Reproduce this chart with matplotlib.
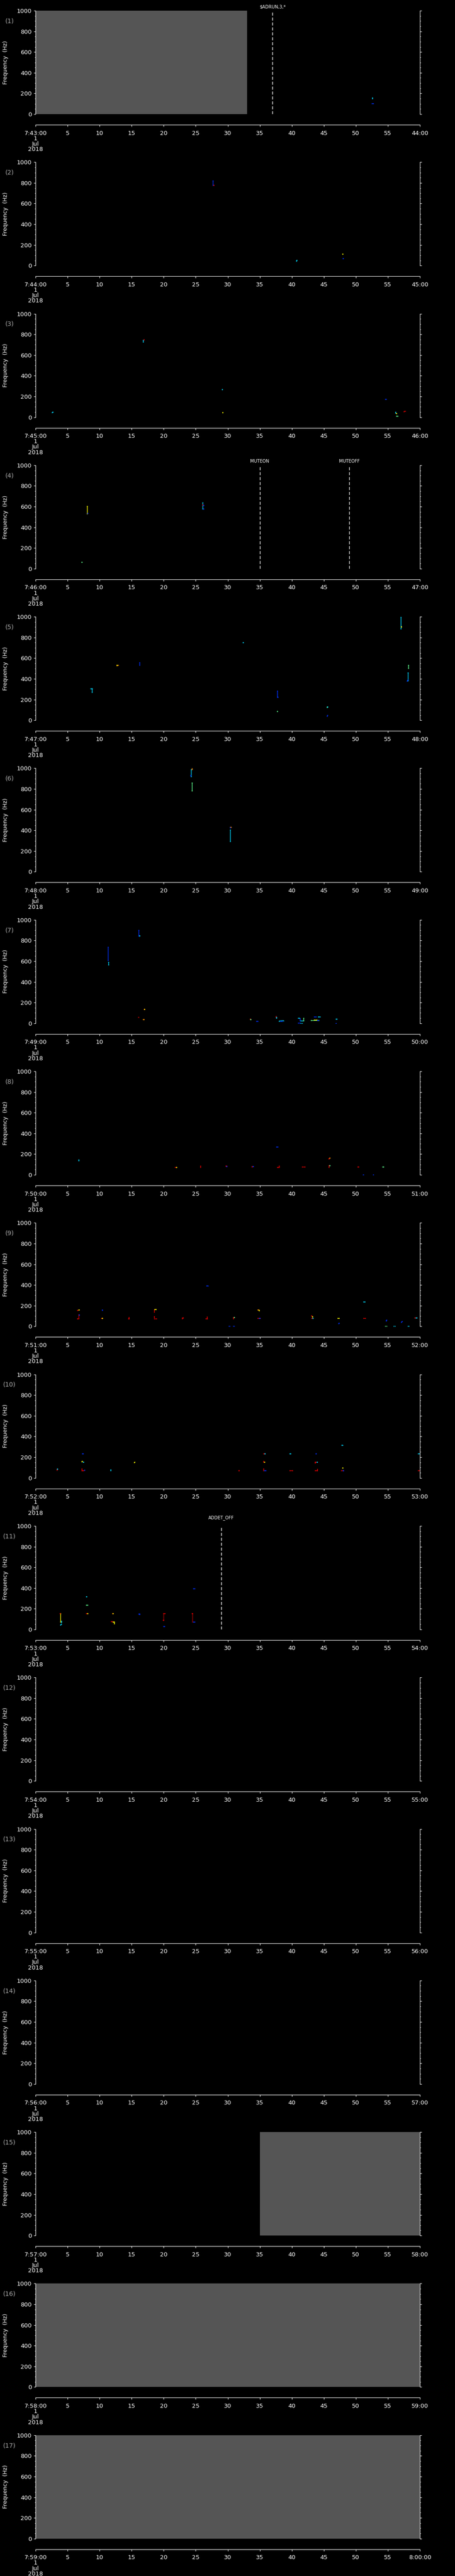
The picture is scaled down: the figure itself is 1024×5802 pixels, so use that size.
import matplotlib
matplotlib.use('Agg')
import matplotlib.pyplot as plt
from matplotlib.ticker import MultipleLocator

# one panel per minute, 7:43 -> 8:00 on 1 Jul 2018
minutes = list(range(43, 60))          # start minute of each panel (hour 7)
n_panels = len(minutes)

# grey "no data" spans (seconds) per panel index
gray_spans = {0: (0, 33.0), 14: (35.0, 60), 15: (0, 60), 16: (0, 60)}

# event markers: (panel index, second, label, label offset in px above axes)
events = [(0, 37.0, '$ADRUN,3,*', 9),
          (3, 35.0, 'MUTEON', 9),
          (3, 49.0, 'MUTEOFF', 9),
          (10, 29.0, 'ADDET_OFF', 18)]

cols = {'b': '#0030ff', 'c': '#00d8ff', 'g': '#60ff90', 'y': '#ffff00',
        'o': '#ff9000', 'r': '#e00000', 'd': '#a00000'}

# specks: (t0, t1, f0, f1, colour)
p1 = [(52.6, 52.6, 150, 160, 'c'), (52.5, 52.7, 105, 105, 'b')]
p2 = [(27.7, 27.7, 779, 819, 'b'), (27.8, 27.8, 777, 777, 'r'), (40.7, 40.8, 46, 54, 'c'),
      (47.9, 47.9, 114, 114, 'y'), (48.0, 48.0, 68, 68, 'b')]
p3 = [(2.6, 2.7, 47, 50, 'c'), (16.8, 16.8, 729, 745, 'c'), (16.9, 16.9, 749, 751, 'r'),
      (29.1, 29.1, 270, 270, 'c'), (29.2, 29.2, 47, 47, 'y'), (54.6, 54.7, 174, 174, 'b'),
      (56.2, 56.2, 42, 51, 'c'), (56.3, 56.3, 37, 37, 'y'), (56.3, 56.5, 13, 13, 'g'),
      (57.5, 57.7, 56, 58, 'r')]
p4 = [(8.07, 8.07, 531, 603, 'y'), (8.1, 8.1, 534, 534, 'b'), (7.2, 7.2, 64, 64, 'g'),
      (26.1, 26.1, 577, 641, 'c'), (26.1, 26.1, 617, 617, 'r'), (26.2, 26.2, 614, 614, 'b'),
      (26.2, 26.2, 577, 577, 'b')]
p5 = [(8.6, 8.8, 304, 304, 'c'), (8.8, 8.8, 269, 304, 'c'), (12.7, 12.9, 528, 531, 'o'),
      (12.7, 12.7, 532, 532, 'y'), (16.2, 16.2, 532, 558, 'b'), (32.4, 32.4, 753, 753, 'c'),
      (37.7, 37.7, 224, 283, 'b'), (37.8, 37.8, 226, 226, 'b'), (37.7, 37.7, 85, 85, 'g'),
      (45.5, 45.5, 127, 131, 'g'), (45.6, 45.6, 128, 128, 'c'), (45.5, 45.6, 40, 49, 'b'),
      (57.0, 57.0, 883, 998, 'c'), (57.1, 57.1, 900, 905, 'y'), (58.2, 58.2, 504, 532, 'g'),
      (58.1, 58.1, 384, 459, 'c'), (58.0, 58.1, 380, 390, 'b')]
p6 = [(24.3, 24.3, 920, 990, 'c'), (24.4, 24.4, 990, 997, 'o'), (24.2, 24.2, 930, 935, 'b'),
      (24.4, 24.4, 784, 860, 'g'), (30.4, 30.4, 294, 406, 'c'), (30.4, 30.5, 431, 431, 'o'),
      (30.4, 30.4, 427, 427, 'b')]
p7 = [(11.3, 11.3, 610, 737, 'b'), (11.4, 11.4, 566, 590, 'c'), (16.1, 16.1, 843, 900, 'b'),
      (16.2, 16.2, 845, 850, 'c'), (16.9, 17.0, 137, 137, 'r'), (17.0, 17.0, 137, 137, 'y'),
      (16.0, 16.1, 60, 60, 'd'), (16.8, 16.9, 36, 36, 'o'), (33.5, 33.5, 41, 44, 'r'),
      (33.6, 33.6, 38, 38, 'g'), (34.5, 34.7, 21, 21, 'b'), (37.5, 37.5, 60, 69, 'r'),
      (37.6, 37.6, 50, 58, 'c'), (38.0, 38.7, 22, 26, 'c'), (38.2, 38.5, 21, 21, 'b'),
      (41.0, 41.2, 51, 51, 'c'), (41.3, 41.3, 26, 45, 'b'), (41.4, 41.7, 26, 26, 'c'),
      (41.8, 41.8, 26, 51, 'g'), (41.0, 41.3, 3, 3, 'b'), (41.4, 41.6, 0, 0, 'c'),
      (43.0, 44.2, 30, 30, 'g'), (43.5, 43.9, 34, 34, 'y'), (44.0, 44.2, 30, 30, 'b'),
      (43.5, 43.8, 64, 64, 'b'), (44.1, 44.4, 64, 64, 'c'), (46.9, 47.0, 43, 43, 'c'),
      (46.9, 46.9, 1, 1, 'b')]
p8 = [(6.7, 6.7, 138, 148, 'c'), (21.8, 21.9, 72, 72, 'r'), (22.0, 22.0, 72, 72, 'y'),
      (25.7, 25.7, 74, 84, 'r'), (29.7, 29.8, 84, 84, 'r'), (29.8, 29.8, 80, 80, 'b'),
      (33.8, 33.8, 79, 82, 'r'), (33.9, 34.0, 82, 82, 'b'), (37.7, 37.9, 74, 74, 'r'),
      (38.0, 38.0, 74, 85, 'r'), (41.6, 42.0, 79, 79, 'r'), (45.8, 45.8, 72, 89, 'r'),
      (45.9, 45.9, 89, 89, 'g'), (45.8, 45.8, 155, 161, 'r'), (45.9, 45.9, 165, 165, 'o'),
      (37.6, 37.8, 269, 269, 'b'), (50.3, 50.4, 79, 79, 'r'), (54.2, 54.3, 79, 79, 'g'),
      (51.1, 51.2, 0, 0, 'b'), (52.7, 52.7, 0, 0, 'b')]
p9 = [(6.5, 6.6, 158, 158, 'r'), (6.7, 6.8, 161, 161, 'y'), (6.7, 6.7, 75, 113, 'r'),
      (6.5, 6.6, 75, 75, 'r'), (6.8, 6.8, 110, 113, 'b'), (10.4, 10.4, 158, 161, 'b'),
      (10.3, 10.4, 80, 80, 'r'), (10.4, 10.4, 80, 80, 'y'), (14.6, 14.6, 75, 89, 'r'),
      (14.5, 14.6, 75, 75, 'r'), (18.5, 18.5, 138, 160, 'r'), (18.6, 18.8, 164, 164, 'y'),
      (18.5, 18.5, 89, 97, 'r'), (18.5, 18.9, 75, 75, 'r'), (22.9, 22.9, 75, 85, 'r'),
      (23.0, 23.0, 85, 85, 'r'), (26.8, 26.8, 75, 90, 'r'), (26.6, 26.8, 75, 75, 'r'),
      (26.7, 26.9, 392, 390, 'b'), (30.9, 30.9, 75, 89, 'r'), (31.0, 31.0, 89, 89, 'g'),
      (30.2, 30.3, 0, 0, 'b'), (30.9, 31.0, 0, 0, 'b'), (34.7, 34.8, 161, 161, 'o'),
      (34.9, 34.9, 152, 158, 'y'), (34.7, 35.0, 77, 77, 'r'), (34.9, 35.0, 77, 77, 'b'),
      (43.1, 43.1, 100, 105, 'r'), (43.2, 43.2, 93, 96, 'y'), (43.1, 43.2, 77, 77, 'r'),
      (43.3, 43.3, 77, 77, 'c'), (47.2, 47.4, 77, 77, 'y'), (47.3, 47.4, 28, 33, 'b'),
      (51.2, 51.4, 236, 236, 'c'), (51.2, 51.5, 77, 77, 'r'), (54.7, 54.8, 52, 62, 'b'),
      (54.6, 54.8, 0, 0, 'g'), (55.9, 56.1, 0, 0, 'c'), (57.1, 57.2, 38, 48, 'b'),
      (58.1, 58.3, 0, 0, 'c'), (59.2, 59.3, 82, 82, 'r'), (59.4, 59.5, 82, 82, 'c')]
p10 = [(3.3, 3.3, 74, 85, 'r'), (3.4, 3.4, 85, 90, 'c'), (7.3, 7.4, 234, 234, 'b'),
       (7.2, 7.3, 157, 160, 'y'), (7.4, 7.5, 151, 151, 'c'), (7.2, 7.2, 72, 90, 'r'),
       (7.3, 7.5, 72, 72, 'r'), (7.6, 7.6, 74, 74, 'b'), (11.7, 11.7, 71, 82, 'c'),
       (15.4, 15.5, 148, 153, 'y'), (31.7, 31.8, 71, 71, 'r'), (35.6, 35.7, 234, 234, 'r'),
       (35.8, 35.8, 234, 234, 'c'), (35.6, 35.6, 153, 163, 'r'), (35.7, 35.7, 151, 151, 'y'),
       (35.6, 35.6, 71, 89, 'r'), (35.7, 35.9, 71, 71, 'b'), (39.7, 39.8, 235, 235, 'c'),
       (39.7, 40.1, 71, 71, 'r'), (43.8, 43.8, 235, 235, 'b'), (43.6, 43.6, 143, 153, 'r'),
       (43.6, 43.8, 153, 153, 'r'), (43.9, 44.0, 151, 151, 'c'), (43.6, 43.9, 71, 71, 'r'),
       (44.0, 44.0, 71, 86, 'r'), (47.8, 47.9, 316, 318, 'c'), (47.9, 47.9, 97, 97, 'y'),
       (47.7, 48.0, 71, 71, 'r'), (48.0, 48.1, 71, 71, 'b'), (59.7, 60.0, 235, 235, 'c'),
       (59.7, 60.0, 71, 71, 'r')]
p11 = [(3.9, 3.9, 74, 156, 'y'), (3.8, 3.8, 156, 156, 'r'), (4.0, 4.0, 70, 82, 'c'),
       (3.9, 4.0, 41, 53, 'c'), (7.9, 8.0, 319, 319, 'c'), (7.9, 8.1, 234, 234, 'g'),
       (7.9, 8.0, 156, 156, 'r'), (8.1, 8.1, 156, 156, 'y'), (12.0, 12.1, 156, 156, 'r'),
       (12.1, 12.1, 156, 156, 'y'), (11.8, 12.0, 77, 77, 'r'), (12.3, 12.3, 54, 74, 'y'),
       (12.1, 12.2, 74, 74, 'y'), (16.1, 16.2, 151, 151, 'b'), (16.2, 16.2, 145, 151, 'b'),
       (20.0, 20.0, 90, 156, 'd'), (20.0, 20.2, 156, 156, 'r'), (19.9, 20.0, 90, 90, 'r'),
       (20.0, 20.1, 31, 31, 'b'), (24.5, 24.5, 74, 156, 'd'), (24.4, 24.5, 156, 156, 'r'),
       (24.6, 24.8, 74, 74, 'b'), (24.6, 24.8, 393, 393, 'b')]
specks = {0: p1, 1: p2, 2: p3, 3: p4, 4: p5, 5: p6, 6: p7, 7: p8, 8: p9, 9: p10, 10: p11}

W, H = 1024, 5802
step = H / n_panels
left, width = 80 / W, 865 / W
ax_h = 233
fs = 9.5

fig = plt.figure(figsize=(W / 100, H / 100), dpi=100, facecolor='black')

for i, m in enumerate(minutes):
    top = 24 + i * step
    ax = fig.add_axes([left, 1 - (top + ax_h) / H, width, ax_h / H])
    ax.set_facecolor('black')
    ax.set_xlim(0, 60)
    ax.set_ylim(0, 1000)
    for s in ['top', 'bottom']:
        ax.spines[s].set_visible(False)
    for s in ['left', 'right']:
        ax.spines[s].set_color('white')
    ax.set_xticks([])
    ax.yaxis.set_major_locator(MultipleLocator(200))
    ax.yaxis.set_minor_locator(MultipleLocator(50))
    ax.tick_params(axis='y', which='both', left=True, right=True, direction='out',
                   colors='white', labelsize=fs, pad=3)
    ax.tick_params(axis='y', which='major', length=3)
    ax.tick_params(axis='y', which='minor', length=1.5)
    ax.set_ylabel('Frequency  (Hz)', color='white', fontsize=9, labelpad=14)
    ax.text(-0.068, 0.9, '(%d)' % (i + 1), transform=ax.transAxes, color='#a8a8a8',
            fontsize=10, ha='center', va='center')

    if i in gray_spans:
        ax.axvspan(gray_spans[i][0], gray_spans[i][1], color='#555555', lw=0)

    for t0, t1, f0, f1, c in specks.get(i, []):
        ax.plot([t0, t1], [f0, f1], color=cols[c], lw=1.0, marker='s', ms=1.4, mew=0,
                solid_capstyle='butt')

    for j, t, lab, off in events:
        if j == i:
            ax.axvline(t, color='white', lw=1, dashes=(5, 3))
            ax.text(t, 1 + off / ax_h, lab, transform=ax.get_xaxis_transform(), color='white',
                    fontsize=7, ha='center', va='center', parse_math=False)

    # separate time axis below the panel
    tax = fig.add_axes([left, 1 - (top + 257) / H, width, 0.00001])
    tax.set_facecolor('none')
    for s in ['top', 'left', 'right']:
        tax.spines[s].set_visible(False)
    tax.spines['bottom'].set_color('white')
    tax.set_yticks([])
    tax.set_xlim(0, 60)
    ticks = list(range(0, 61, 5))
    end = '8:00:00' if m == 59 else '%02d:00' % (m + 1)
    labels = ['7:%02d:00\n1\nJul\n2018' % m] + [str(t) for t in ticks[1:-1]] + [end]
    tax.set_xticks(ticks)
    tax.set_xticklabels(labels)
    tax.tick_params(axis='x', direction='out', length=3, colors='white', labelsize=fs, pad=6)
    for lab in tax.get_xticklabels():
        lab.set_linespacing(0.92)

fig.savefig('out.png', dpi=100, facecolor='black')
